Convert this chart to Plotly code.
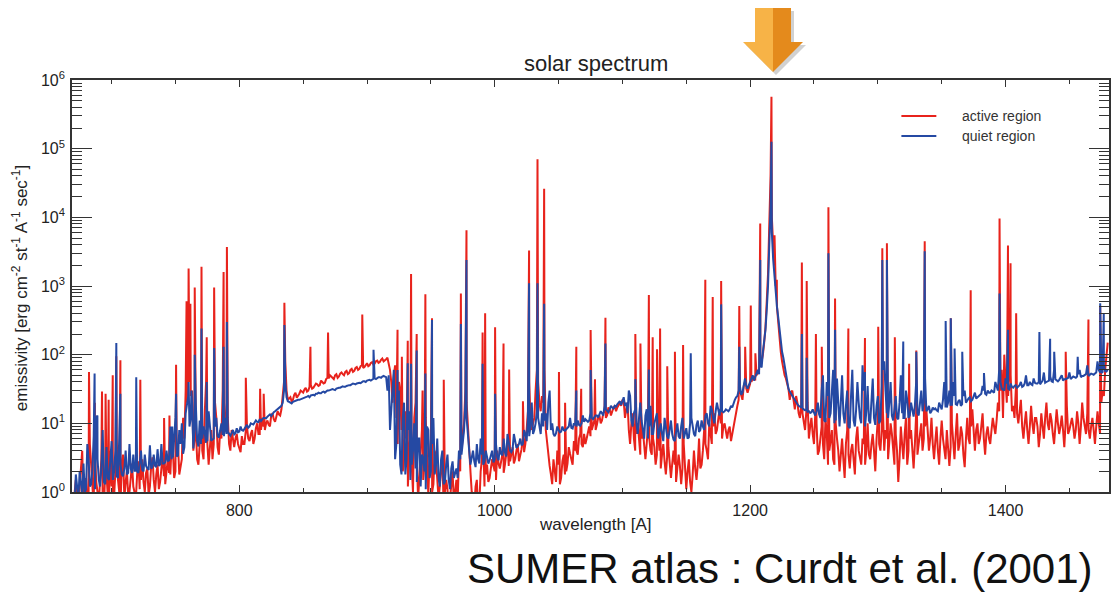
import numpy as np
import plotly.graph_objects as go

# ---------------------------------------------------------------------------
# SUMER solar spectrum (active vs quiet region).  Continuum values are listed
# every 1 A (even-A lists and odd-A lists, each stepping by 2 A); emission
# lines are listed separately as (wavelength, peak emissivity).
# ---------------------------------------------------------------------------
STEP = 2

# quiet region, even wavelengths
quiet_0670 = [0.9, 1.8, 0.8, 1.2, 2.6, 1.1, 3.0, 1.3, 6.5, 12, 1.5, 2.4, 1.4, 4.5, 1.5, 5.5, 2.0, 1.7, 6, 1.8,
              2.2, 1.8, 5, 1.9, 2.0, 2.0, 2.6, 2.1, 3.5, 2.2, 4.8, 2.3, 2.4, 4.2, 2.5, 2.6, 2.7, 2.8, 9, 3.2,
              12, 3.4, 5, 3.6, 14, 25, 12, 4.3, 18, 4.6]
quiet_0770 = [5.0, 9, 5.2, 15, 5.6, 6, 12, 6.2, 10, 6.5, 7, 7.0, 7.2, 6.9, 8.5, 7.6, 8.0, 8.3, 9.5, 9.0,
              9.8, 10.3, 10.5, 11.5, 11.4, 12, 12.5, 13.5, 14, 15, 16, 17, 20, 40, 21, 20, 20.5, 21, 22, 22.5,
              23, 24, 25, 25.5, 26, 27, 28, 27.5, 29, 29.5]
quiet_0870 = [30, 30.5, 31, 32, 33, 33.5, 34, 35, 36, 37, 37.5, 38, 39, 40, 41, 42, 43, 44, 45, 46,
              47, 48, 48, 30, 8, 40, 3, 25, 2.5, 12, 1.8, 8, 1.5, 4, 2.2, 6, 1.2, 3, 1.1, 8,
              2.0, 12, 2.5, 1.6, 3, 1.3, 2.5, 1.5, 2.2, 1.6]
quiet_0970 = [2.2, 4, 3.5, 8, 12, 4, 3, 2.8, 5, 2.6, 3.5, 2.8, 3, 2.9, 4, 3.0, 3.2, 4.5, 3.4, 3.8,
              7, 4, 4.2, 5.5, 4.6, 6, 5, 7, 12, 9, 7, 10, 12, 7, 9, 14, 20, 8, 7, 7.2,
              8, 7.6, 8, 8.2, 9, 8.6, 10, 9, 9.5, 10]
quiet_1070 = [10.5, 11, 11, 12, 12.5, 13, 13.5, 14, 18, 15, 16, 17, 18, 19, 21, 22, 18, 14, 25, 9,
              16, 7, 20, 8, 13, 6, 18, 7, 12, 6, 10, 5.5, 9, 6, 11, 5.8, 8, 6.5, 9, 6,
              8.5, 6.2, 12, 7, 9.5, 7.5, 11, 8, 14, 9]
quiet_1170 = [16, 10, 20, 13, 15, 15, 15.5, 16, 17, 22, 25, 35, 28, 45, 32, 40, 50, 48, 60, 70,
              110, 230, 1000, 15000, 2500, 800, 350, 150, 90, 60, 32, 27, 23, 20, 18, 17, 16, 15.5, 15, 14.5,
              14, 15, 13.5, 30, 11, 40, 12, 35, 10, 45]
quiet_1270 = [9, 50, 10, 30, 8.5, 60, 9, 40, 12, 70, 9, 35, 10, 45, 9.5, 25, 11, 60, 30, 12,
              40, 11, 25, 11.5, 50, 12, 30, 12, 20, 12.5, 40, 13, 30, 20, 15, 18, 15, 16, 15.5, 20,
              16, 40, 17, 30, 18, 25, 18.5, 22, 19, 30]
quiet_1370 = [22, 24, 22, 28, 24, 26, 35, 27, 30, 28, 29, 40, 30, 40, 31, 45, 32, 38, 33, 36,
              34, 40, 35, 50, 36, 37, 45, 38, 40, 39, 55, 40, 42, 41, 60, 42, 43, 50, 44, 45,
              55, 46, 47, 48, 60, 49, 50, 70, 51, 52]
quiet_1470 = [53, 80, 55, 56, 58, 60]

# quiet region, odd wavelengths
quiet_0671 = [0.7, 1.1, 2.0, 0.9, 1.0, 5, 1.2, 2.2, 1.1, 3, 1.2, 8, 1.3, 1.6, 3, 1.5, 4, 1.6, 2.5, 1.7,
              4, 1.9, 2.2, 3.5, 2.1, 1.9, 4, 2.0, 2.4, 2.1, 2.2, 3.5, 2.3, 2.4, 5, 2.6, 4, 2.9, 3.0, 6,
              3.3, 8, 10, 4.5, 18, 9, 20, 8, 5.5, 11]
quiet_0771 = [6, 7, 5.5, 8, 5.8, 9, 6.5, 8, 6.8, 12, 7.5, 6.6, 8, 7.2, 7.4, 9, 7.8, 8.8, 8.6, 10,
              9.6, 11, 10.4, 10.8, 12, 11.8, 13, 12.8, 14.5, 15.5, 16.5, 18, 30, 24, 20.5, 19.5, 21, 21.5, 22, 23,
              23.5, 24.5, 24, 26, 25.5, 27, 27.5, 28.5, 28, 30]
quiet_0871 = [30.5, 31.5, 30.5, 33, 33, 34.5, 34, 36, 36, 38, 37, 39, 38.5, 41, 40, 42.5, 42, 44.5, 44, 47,
              46, 49, 47, 50, 15, 60, 5, 30, 1.8, 20, 3, 15, 2.5, 10, 1.4, 6, 3.5, 2, 9, 1.6,
              5, 1.8, 6, 1.2, 4, 1.4, 3.5, 1.1, 2.8, 1.9]
quiet_0971 = [1.6, 3, 6, 20, 6, 2.5, 4, 2.3, 3, 6, 2.5, 4, 2.6, 3.5, 2.7, 5, 2.9, 3.6, 6, 3.3,
              5, 3.8, 7, 4.4, 5, 4.8, 8, 5.5, 6.5, 20, 8, 15, 9, 14, 11, 8, 30, 10, 6.5, 9,
              7.4, 9, 7.8, 8.6, 12, 8.4, 9.4, 11, 9.2, 13]
quiet_1071 = [11.5, 10.5, 14, 11.5, 13, 12.2, 15, 13, 16, 14.5, 18, 16.5, 17.5, 20, 18.5, 24, 20, 30, 11, 14,
              10, 12, 11, 6, 16, 9, 7, 10, 14, 8, 7, 12, 6.5, 8, 7, 5.5, 10, 6, 12, 7,
              6, 10, 8.5, 6.5, 11, 8, 9, 13, 10, 18]
quiet_1171 = [12, 15, 16, 17, 14.5, 16, 15, 18, 20, 24, 30, 26, 38, 35, 36, 45, 42, 55, 52, 65,
              160, 450, 4000, 6000, 1300, 500, 220, 110, 70, 45, 29, 25, 21, 19, 17.5, 16.5, 15.5, 14.8, 14.2, 16,
              13, 20, 12, 50, 10.5, 25, 14, 60, 11, 20]
quiet_1271 = [20, 14, 18, 9, 25, 11, 16, 20, 10, 30, 15, 11, 22, 12, 18, 10, 35, 80, 14, 20,
              13, 16, 12, 20, 14, 12, 22, 13, 15, 18, 14, 20, 15, 45, 16, 14, 17, 16.5, 15, 18,
              22, 17, 20, 18, 40, 19, 21, 18, 25, 20]
quiet_1371 = [23, 21, 26, 23, 25, 27, 30, 26, 28, 30, 28, 33, 60, 32, 30, 38, 31, 34, 35, 33,
              36, 34, 38, 36, 40, 36, 39, 38, 37, 42, 39, 41, 48, 40, 44, 41, 47, 42, 44, 46,
              44, 48, 46, 52, 47, 49, 52, 49, 53, 51]
quiet_1471 = [55, 60, 54, 70, 57]

# active region, even wavelengths
active_0670 = [0.6, 1.5, 0.5, 2.2, 0.7, 1.6, 0.8, 2.5, 0.6, 1.4, 0.7, 3, 0.6, 1.8, 0.8, 1.2, 0.9, 6, 1.0, 2.4,
               0.8, 2.0, 1.0, 2.6, 0.9, 1.8, 1.1, 3.0, 1.0, 2.2, 1.2, 3.2, 1.0, 2.5, 1.4, 3.5, 1.3, 3.0, 1.8, 4.0,
               2.0, 5.0, 2.2, 12, 30, 60, 25, 4.0, 8, 2.5]
active_0770 = [6, 3, 40, 2.5, 8, 5, 12, 3.5, 6, 10, 20, 5, 8, 4.5, 7, 4.2, 6.5, 5, 9, 5.5,
               8, 6, 10, 7, 12, 8, 11, 9, 14, 10.5, 15, 13, 25, 80, 22, 24, 22, 28, 25, 30,
               28, 33, 30, 36, 33, 38, 35, 42, 38, 44]
active_0870 = [45, 48, 44, 52, 48, 55, 50, 58, 54, 62, 58, 66, 62, 70, 66, 75, 70, 78, 74, 82,
               78, 88, 82, 90, 60, 20, 70, 5, 30, 2, 15, 1.2, 8, 1.0, 20, 0.8, 5, 1.5, 12, 0.9,
               6, 1.3, 3, 0.8, 2.0, 0.6, 1.5, 0.5, 1.2, 0.7]
active_0970 = [1.5, 3, 4, 10, 20, 5, 1.0, 0.6, 1.5, 0.7, 3, 1.2, 2.5, 1.6, 3, 2.0, 4, 2.2, 3.5, 2.5,
               5, 2.8, 4.5, 3.0, 5, 3.5, 6, 5, 15, 12, 10, 30, 40, 15, 20, 8, 3, 1.8, 3, 1.4,
               2.5, 1.6, 3.5, 2.0, 4.5, 3.0, 5.5, 4.0, 6.0, 5.0]
active_1070 = [7, 6, 9, 8, 11, 9.5, 13, 11, 15, 13, 16, 15, 18, 17, 20, 22, 12, 20, 5, 14,
               4, 10, 3.5, 8, 3, 9, 4, 6, 2.5, 7, 2.2, 5, 1.8, 4.5, 1.6, 4, 1.4, 3.5, 1.3, 5,
               1.1, 3, 1.0, 4, 1.5, 6, 2.5, 8, 4, 10]
active_1170 = [5, 14, 8, 16, 6, 10, 6, 9, 7, 12, 18, 30, 22, 40, 28, 38, 45, 42, 55, 70,
               100, 250, 1500, 40000, 4000, 1000, 300, 110, 60, 45, 32, 28, 20, 25, 14, 18, 10, 15, 6, 12,
               5, 10, 4, 9, 3, 7, 4, 8, 2.5, 6]
active_1270 = [2, 6, 1.6, 8, 2.2, 5, 1.8, 9, 3, 6, 2.5, 10, 3, 7, 2, 12, 4, 15, 8, 3,
               10, 4, 7, 1.4, 9, 3, 12, 4, 8, 2.2, 14, 5, 10, 6, 16, 4, 12, 3, 9, 2.5,
               11, 4, 8, 2.4, 10, 3, 14, 5, 7, 2.3]
active_1370 = [12, 5, 16, 4, 10, 6, 14, 3.5, 9, 5, 12, 7, 20, 30, 12, 40, 25, 50, 18, 30,
               10, 22, 6, 15, 5, 18, 7, 12, 4.5, 14, 6, 20, 8, 11, 5, 16, 7, 13, 4.5, 18,
               8, 12, 6, 15, 5, 20, 9, 14, 6, 12]
active_1470 = [5, 15, 7, 30, 60, 150]

# active region, odd wavelengths
active_0671 = [1.0, 0.6, 1.2, 4, 1.1, 0.7, 5, 1.0, 3.5, 0.9, 1.5, 0.8, 2.0, 0.9, 4, 1.0, 2.0, 1.5, 0.7, 3.5,
               1.4, 0.9, 1.6, 1.2, 0.8, 2.8, 1.5, 1.4, 1.9, 0.9, 2.4, 1.5, 1.8, 1.1, 2.2, 1.7, 2.0, 1.9, 5, 1.6,
               3.5, 1.8, 3.0, 6, 20, 40, 30, 6, 3.0, 5]
active_0771 = [4, 15, 5, 4, 3, 20, 4.5, 8, 30, 9, 12, 4, 5.5, 6, 5, 3.8, 5, 7.5, 6, 7,
               5, 8.5, 7, 8, 9, 10, 9.5, 13, 11.5, 12.5, 13.5, 16, 40, 30, 23, 21, 26, 23.5, 27, 29,
               31, 29, 34, 32, 35, 37, 36, 40, 39, 46]
active_0871 = [50, 46, 50, 46, 53, 52, 56, 52, 60, 56, 64, 60, 68, 64, 72, 68, 76, 72, 80, 76,
               84, 80, 86, 75, 40, 50, 12, 40, 8, 3, 6, 3, 2.5, 12, 3, 1.6, 8, 2.5, 4, 3,
               1.0, 4, 1.8, 1.2, 3.5, 1.0, 1.1, 0.8, 2.0, 1.1]
active_0971 = [0.8, 2.0, 6, 30, 8, 2.0, 0.7, 1.2, 0.5, 2.0, 5, 1.8, 1.4, 2.2, 2.4, 1.5, 2.6, 3.0, 1.9, 3.4,
               2.4, 3.6, 2.6, 4, 2.8, 4.2, 3.8, 8, 40, 8, 12, 60, 20, 25, 60, 5, 2.4, 1.3, 2.2, 4,
               1.3, 2.8, 1.8, 2.6, 3.6, 2.5, 4, 3.5, 7, 4.5]
active_1071 = [5, 8, 6.5, 10, 8, 12, 10, 14, 12, 17, 13, 17, 15, 19, 18, 21, 16, 8, 10, 6,
               7, 5, 6, 4.5, 5, 6, 3.5, 4.5, 3.5, 4, 3.5, 2.8, 3.2, 2.4, 2.6, 2.5, 2.0, 2.4, 2.2, 1.8,
               2, 1.4, 1.8, 2.2, 2.5, 2.2, 4, 5, 3, 7]
active_1171 = [9, 7, 12, 10, 9, 7.5, 8, 5.5, 10, 15, 22, 26, 35, 32, 34, 40, 48, 50, 60, 80,
               150, 600, 8000, 10000, 2000, 500, 170, 80, 50, 38, 22, 30, 16, 20, 12, 14, 8, 20, 9, 7,
               14, 3.5, 6, 5, 12, 2.5, 5.5, 3, 10, 4]
active_1271 = [4, 3, 5, 3.5, 4, 2.5, 6, 4, 2.5, 5, 4, 3.5, 5, 4, 6, 5, 8, 4, 6, 5,
               7, 2.5, 4, 3, 5, 7, 2.5, 6, 4, 5, 3.5, 8, 4, 9, 7, 6, 5, 5.5, 4, 6,
               6, 3, 5, 4.5, 6, 7, 4, 9, 3.5, 6]
active_1371 = [6, 9, 7, 8, 5, 9, 6, 7, 6, 8, 9, 11, 15, 60, 100, 20, 60, 15, 12, 14,
               15, 9, 10, 8, 9, 10, 12, 9, 7, 9, 12, 10, 14, 7, 9, 10, 9, 8, 10, 7,
               10, 9, 8, 10, 9, 12, 7, 8, 9, 8]
active_1471 = [9, 10, 20, 25, 100]

# emission lines: (wavelength [A], peak emissivity)
active_lines = [
    (682.3, 56), (686.9, 20), (692.5, 29), (695.3, 27), (697.7, 22), (700.9, 50), (703.7, 95),
    (706.9, 83), (722.5, 43), (741.1, 12), (745.3, 13), (750.5, 71), (758.7, 600), (760.3, 1800),
    (761.7, 550), (765.1, 950), (770.4, 1900), (774.5, 180), (780.3, 950), (787.7, 1600),
    (790.3, 3700), (805.1, 46), (816.3, 32), (819.1, 27), (835.3, 570), (855.7, 130), (869.5, 210),
    (896.3, 385), (923.9, 230), (927.3, 93), (931.9, 160), (934.5, 1500), (938.9, 200), (943.5, 30),
    (945.7, 760), (950.9, 340), (960.1, 43), (973.5, 780), (977.9, 6500), (990.5, 210), (992.5, 400),
    (1000.3, 250), (1006.9, 145), (1011.3, 61), (1022.1, 21), (1026.9, 3300), (1033.5, 70000),
    (1038.7, 26000), (1050.3, 56), (1055.1, 20), (1063.9, 130), (1067.7, 32), (1075.1, 228),
    (1078.5, 44), (1086.7, 345), (1110.1, 200), (1114.1, 145), (1120.7, 740), (1123.7, 180),
    (1127.1, 120), (1129.5, 240), (1135.1, 68), (1141.1, 110), (1147.5, 138), (1164.9, 1230),
    (1170.7, 690), (1177.3, 1180), (1191.5, 510), (1196.1, 130), (1200.5, 520), (1204.1, 105),
    (1207.9, 8100), (1216.7, 570000), (1219.1, 5500), (1220.9, 1230), (1240.5, 2200), (1244.3, 1180),
    (1251.5, 200), (1256.1, 130), (1261.3, 14000), (1266.5, 660), (1276.9, 240), (1289.9, 175),
    (1300.3, 255), (1303.5, 3550), (1307.1, 4200), (1313.3, 180), (1324.5, 74), (1330.1, 115),
    (1336.7, 4500), (1357.1, 340), (1372.7, 870), (1395.3, 9600), (1401.9, 3900), (1403.9, 2150),
    (1408.3, 400), (1447.1, 110), (1464.9, 325), (1474.1, 500),
]
quiet_lines = [
    (686.7, 53), (688.9, 13), (703.7, 148), (706.9, 27), (719.3, 47), (747.5, 9), (750.5, 27),
    (760.3, 40), (762.5, 30), (765.1, 100), (770.4, 240), (774.5, 40), (780.3, 125), (787.7, 130),
    (790.3, 300), (835.3, 270), (905.1, 118), (923.9, 60), (931.9, 75), (934.5, 74), (938.9, 115),
    (945.7, 53), (950.9, 320), (973.5, 280), (977.9, 2400), (990.5, 74), (1000.3, 27), (1026.9, 1100),
    (1033.5, 1100), (1038.7, 550), (1063.9, 30), (1075.1, 60), (1086.7, 145), (1110.1, 44),
    (1120.7, 61), (1153.5, 105), (1177.3, 540), (1191.5, 130), (1207.9, 2400), (1216.7, 126000),
    (1240.5, 200), (1244.3, 90), (1261.3, 3000), (1266.5, 230), (1289.9, 56), (1303.5, 2400),
    (1307.1, 2400), (1319.9, 155), (1330.1, 110), (1336.7, 3200), (1353.1, 310), (1357.1, 340),
    (1360.1, 123), (1366.1, 110), (1383.1, 54), (1395.3, 780), (1401.9, 230), (1426.5, 213),
    (1434.9, 170), (1438.1, 110), (1456.5, 93), (1474.1, 560), (1476.9, 400),
]

quiet_bands = [(670, quiet_0670), (770, quiet_0770), (870, quiet_0870), (970, quiet_0970),
               (1070, quiet_1070), (1170, quiet_1170), (1270, quiet_1270), (1370, quiet_1370),
               (1470, quiet_1470),
               (671, quiet_0671), (771, quiet_0771), (871, quiet_0871), (971, quiet_0971),
               (1071, quiet_1071), (1171, quiet_1171), (1271, quiet_1271), (1371, quiet_1371),
               (1471, quiet_1471)]
active_bands = [(670, active_0670), (770, active_0770), (870, active_0870), (970, active_0970),
                (1070, active_1070), (1170, active_1170), (1270, active_1270), (1370, active_1370),
                (1470, active_1470),
                (671, active_0671), (771, active_0771), (871, active_0871), (971, active_0971),
                (1071, active_1071), (1171, active_1171), (1271, active_1271), (1371, active_1371),
                (1471, active_1471)]


def build_spectrum(bands, lines):
    wl, fx = [], []
    for start, vals in bands:
        wl.extend(start + STEP * i for i in range(len(vals)))
        fx.extend(vals)
    for w, f in lines:
        wl.append(w)
        fx.append(f)
    order = np.argsort(wl, kind="stable")
    return np.asarray(wl, dtype=float)[order], np.asarray(fx, dtype=float)[order]


act_wl, act_fx = build_spectrum(active_bands, active_lines)
qui_wl, qui_fx = build_spectrum(quiet_bands, quiet_lines)

RED = "#e8231c"
BLUE = "#2549a3"
FONT = "Liberation Sans, Arial, Helvetica, sans-serif"

fig = go.Figure()
fig.add_trace(go.Scatter(x=act_wl, y=act_fx, mode="lines", name="active region",
                         line=dict(color=RED, width=2.0), showlegend=False))
fig.add_trace(go.Scatter(x=qui_wl, y=qui_fx, mode="lines", name="quiet region",
                         line=dict(color=BLUE, width=2.0), showlegend=False))

decades = [1, 10, 100, 1000, 10000, 100000, 1000000]
dec_text = [f"10<sup>{i}</sup>" for i in range(7)]

fig.update_layout(
    width=1112, height=592,
    margin=dict(l=72, r=1, t=80, b=100),
    paper_bgcolor="white", plot_bgcolor="white",
    font=dict(family=FONT, color="#222", size=16),
    xaxis=dict(range=[669, 1481], showline=True, linecolor="#333", linewidth=1.6, mirror="ticks",
               ticks="inside", ticklen=7, tickwidth=1.3, tickcolor="#333", dtick=200, tick0=0,
               showgrid=False, zeroline=False, tickfont=dict(size=16), ticklabelstandoff=3,
               minor=dict(ticks="inside", dtick=50, ticklen=4, tickwidth=1.2, tickcolor="#333",
                          showgrid=False)),
    yaxis=dict(type="log", range=[0, 6], showline=True, linecolor="#333", linewidth=1.6,
               mirror="ticks", ticks="inside", ticklen=20, tickwidth=1.3, tickcolor="#333",
               tickvals=decades, ticktext=dec_text, showgrid=False, zeroline=False,
               tickfont=dict(size=16), ticklabelstandoff=2,
               minor=dict(ticks="inside", ticklen=10, tickwidth=1.1, tickcolor="#333",
                          dtick="D1", showgrid=False)),
)

# titles
fig.add_annotation(text="solar spectrum", x=0.505, y=1.039, xref="paper", yref="paper",
                   xanchor="center", yanchor="middle", showarrow=False,
                   font=dict(size=22, color="#222"))
fig.add_annotation(text="wavelength [A]", x=0.505, y=-0.080, xref="paper", yref="paper",
                   xanchor="center", yanchor="middle", showarrow=False,
                   font=dict(size=17, color="#222"))
fig.add_annotation(text="emissivity [erg cm<sup>-2</sup> st<sup>-1</sup> A<sup>-1</sup> sec<sup>-1</sup>]",
                   x=-0.050, y=0.495, xref="paper", yref="paper", textangle=-90,
                   xanchor="center", yanchor="middle", showarrow=False,
                   font=dict(size=17, color="#222"))
fig.add_annotation(text="SUMER atlas : Curdt et al. (2001)", x=0.6827, y=-0.1845,
                   xref="paper", yref="paper", xanchor="center", yanchor="middle",
                   showarrow=False, font=dict(size=42, color="#111"))

# legend drawn in the upper-right corner
legend_items = [("active region", RED, 0.9126), ("quiet region", BLUE, 0.8641)]
for label, color, yy in legend_items:
    fig.add_shape(type="line", xref="paper", yref="paper", x0=0.7998, x1=0.8335, y0=yy, y1=yy,
                  line=dict(color=color, width=2))
    fig.add_annotation(text=label, x=0.8565, y=yy, xref="paper", yref="paper", xanchor="left",
                       yanchor="middle", showarrow=False, font=dict(size=14, color="#333"))

# orange arrow pointing down at Lyman-alpha
LYA = 1216.7
arrow_parts = [
    ("M 3,69 L 21,69 L 21,35 L 33,35 L 3,5 L -27,35 L -15,35 L -15,69 Z", "rgba(0,0,0,0.18)"),
    ("M -18,72 L 0,72 L 0,8 L -30,38 L -18,38 Z", "#f7b347"),
    ("M 0,72 L 18,72 L 18,38 L 30,38 L 0,8 Z", "#e48a1c"),
]
for path, color in arrow_parts:
    fig.add_shape(type="path", path=path, xref="x", yref="paper", xsizemode="pixel",
                  ysizemode="pixel", xanchor=LYA + 1.2, yanchor=1, fillcolor=color,
                  line=dict(width=0), layer="above")

fig.write_html("out.html")
